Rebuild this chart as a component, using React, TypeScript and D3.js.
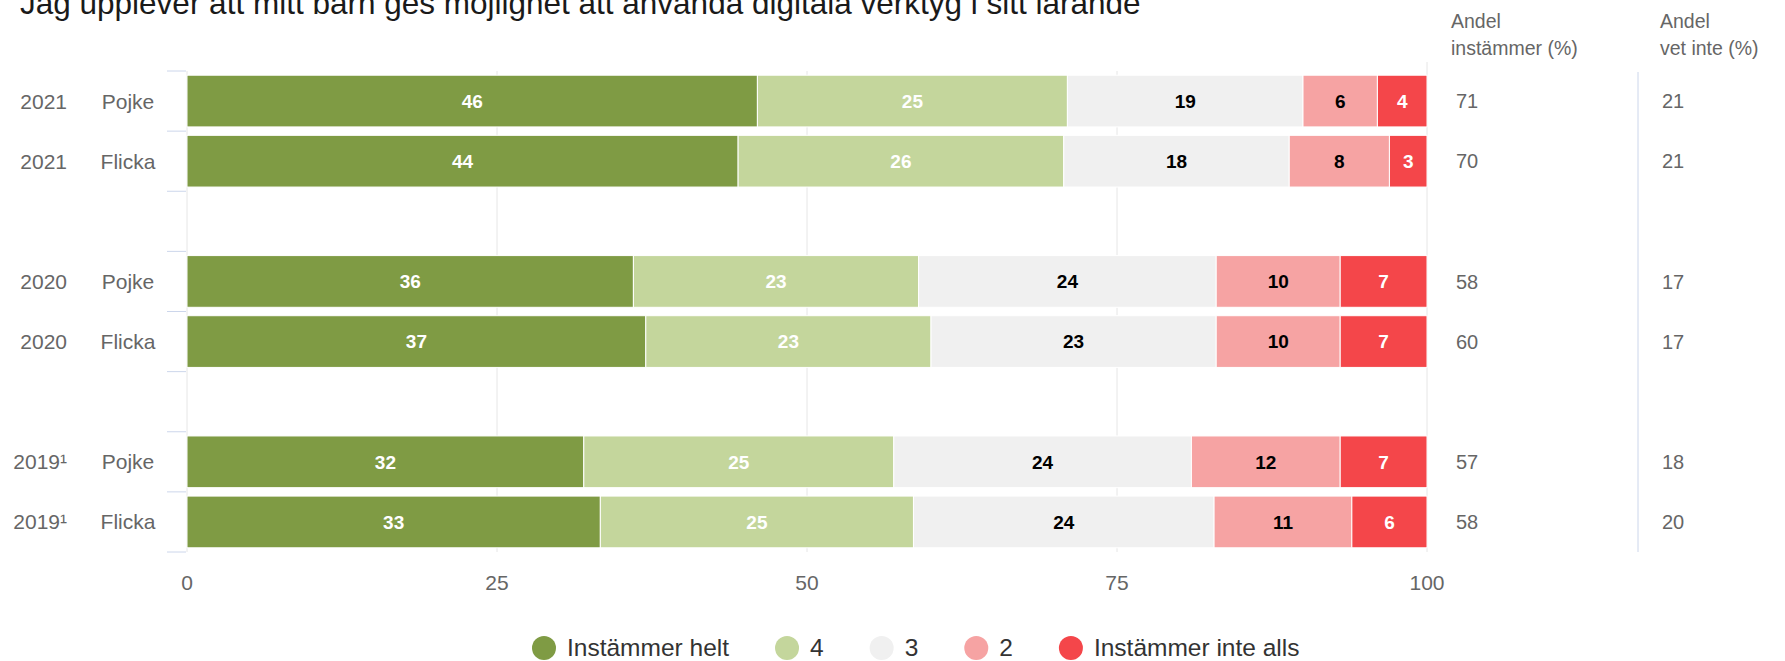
import React from 'react';
import * as d3 from 'd3';

// chart data
const title = 'Jag upplever att mitt barn ges möjlighet att använda digitala verktyg i sitt lärande';
const years = ['2021', '2021', '2020', '2020', '2019¹', '2019¹'];
const genders = ['Pojke', 'Flicka', 'Pojke', 'Flicka', 'Pojke', 'Flicka'];
const seriesNames = ['Instämmer helt', '4', '3', '2', 'Instämmer inte alls'];
const instammerHelt = [46, 44, 36, 37, 32, 33];
const four = [25, 26, 23, 23, 25, 25];
const three = [19, 18, 24, 23, 24, 24];
const two = [6, 8, 10, 10, 12, 11];
const instammerInteAlls = [4, 3, 7, 7, 7, 6];
const andelInstammer = [71, 70, 58, 60, 57, 58];
const andelVetInte = [21, 21, 17, 17, 18, 20];
const xTicks = [0, 25, 50, 75, 100];

const colors = ['#7f9b44', '#c4d69c', '#f0f0f0', '#f6a3a3', '#f4464a'];
const labelColors = ['#ffffff', '#ffffff', '#000000', '#000000', '#ffffff'];

const W = 1785;
const H = 661;
const font = '"Liberation Sans", Arial, Helvetica, sans-serif';

const measure = (text: string, size: number) => {
  const ctx = document.createElement('canvas').getContext('2d');
  if (!ctx) return text.length * size * 0.5;
  ctx.font = `${size}px "Liberation Sans", Arial, sans-serif`;
  return ctx.measureText(text).width;
};

const App = () => {
  const rows = genders.map((g, i) => ({
    i,
    year: years[i],
    gender: g,
    s0: instammerHelt[i],
    s1: four[i],
    s2: three[i],
    s3: two[i],
    s4: instammerInteAlls[i],
  }));
  const keys = ['s0', 's1', 's2', 's3', 's4'];
  const stacked = d3.stack<any>().keys(keys).offset(d3.stackOffsetExpand)(rows);

  // 8 slots: two rows per year, one empty slot between groups
  const slotOf = (i: number) => i + Math.floor(i / 2);
  const y = d3.scaleBand<number>().domain(d3.range(8)).range([71, 552]);
  const x = d3.scaleLinear().domain([0, 100]).range([187, 1427]);
  const barH = y.step() * 0.86;
  const barTop = (i: number) => (y(slotOf(i)) as number) + (y.step() - barH) / 2;
  const rowMid = (i: number) => barTop(i) + barH / 2;

  // legend layout
  const legendSize = 24.5;
  let lx = 532;
  const legendItems = seriesNames.map((name, k) => {
    const item = { name, k, cx: lx + 12, tx: lx + 35 };
    lx = item.tx + measure(name, legendSize) + 46;
    return item;
  });

  return (
    <svg width={W} height={H} style={{ position: 'absolute', left: 0, top: 0, fontFamily: font }}>
      <rect width={W} height={H} fill="#ffffff" />
      <text x={20} y={14} fontSize={31.5} fill="#1a1a1a">{title}</text>

      {/* grid lines */}
      {xTicks.map((t) => (
        <line key={'g' + t} x1={x(t)} x2={x(t)} y1={t === 100 ? 62 : 71} y2={552} stroke="#e6e6e6" strokeWidth={1} />
      ))}
      {/* category tick marks */}
      {d3.range(9).map((k) => (
        <line key={'t' + k} x1={167} x2={186} y1={71 + k * y.step()} y2={71 + k * y.step()} stroke="#ccd6eb" strokeWidth={1} />
      ))}

      {/* bars */}
      {stacked.map((layer, k) => (
        <g key={'l' + k}>
          {layer.map((d, i) => {
            const x0 = x(d[0] * 100);
            const x1 = x(d[1] * 100);
            const v = (rows[i] as any)[keys[k]];
            return (
              <g key={i}>
                <rect x={x0} y={barTop(i)} width={x1 - x0} height={barH} fill={colors[k]} stroke="#ffffff" strokeWidth={1} />
                <text
                  x={(x0 + x1) / 2}
                  y={rowMid(i)}
                  dy="0.36em"
                  textAnchor="middle"
                  fontSize={19}
                  fontWeight="bold"
                  fill={labelColors[k]}
                >
                  {v}
                </text>
              </g>
            );
          })}
        </g>
      ))}

      {/* row labels */}
      {rows.map((r) => (
        <g key={'r' + r.i} fontSize={21} fill="#666666">
          <text x={67} y={rowMid(r.i)} dy="0.36em" textAnchor="end">{r.year}</text>
          <text x={128} y={rowMid(r.i)} dy="0.36em" textAnchor="middle">{r.gender}</text>
        </g>
      ))}

      {/* x axis labels */}
      {xTicks.map((t) => (
        <text key={'x' + t} x={x(t)} y={590} textAnchor="middle" fontSize={21} fill="#666666">{t}</text>
      ))}

      {/* side columns */}
      <g fontSize={19.5} fill="#666666">
        <text x={1451} y={28}>Andel</text>
        <text x={1451} y={55}>instämmer (%)</text>
        <text x={1660} y={28}>Andel</text>
        <text x={1660} y={55}>vet inte (%)</text>
      </g>
      <line x1={1638} x2={1638} y1={72} y2={552} stroke="#ccd6eb" strokeWidth={1} />
      {rows.map((r) => (
        <g key={'c' + r.i} fontSize={20} fill="#666666">
          <text x={1456} y={rowMid(r.i)} dy="0.36em">{andelInstammer[r.i]}</text>
          <text x={1662} y={rowMid(r.i)} dy="0.36em">{andelVetInte[r.i]}</text>
        </g>
      ))}

      {/* legend */}
      {legendItems.map((it) => (
        <g key={'lg' + it.k}>
          <circle cx={it.cx} cy={648} r={12} fill={colors[it.k]} />
          <text x={it.tx} y={656} fontSize={legendSize} fill="#333333">{it.name}</text>
        </g>
      ))}
    </svg>
  );
};

export default App;
